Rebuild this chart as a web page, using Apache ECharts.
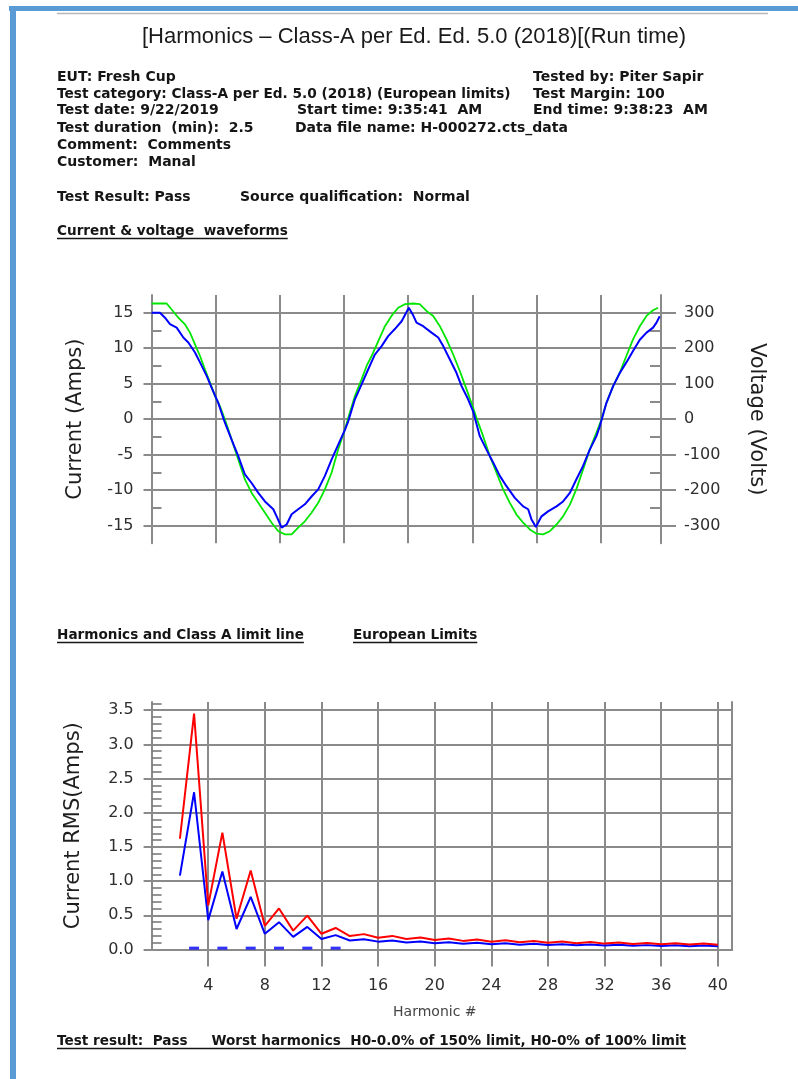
<!DOCTYPE html>
<html><head><meta charset="utf-8">
<script src="https://cdn.jsdelivr.net/npm/echarts@6/dist/echarts.min.js"></script>
<style>html,body{margin:0;padding:0;background:#fff}#c{width:798px;height:1079px}</style>
</head><body><div id="c"></div>
<script>
// ---------- Waveform data (time in ms) ----------
const currentTimeMs = [0,0.66,1.05,1.44,1.96,2.48,2.87,3.39,3.78,4.3,4.69,5.2,5.72,6.24,6.76,7.28,7.8,8.32,8.84,9.49,9.75,10.14,10.53,10.92,11.43,11.95,12.47,12.99,13.51,14.03,14.55,15.07,15.33,15.85,16.37,16.88,17.4,17.93,18.44,18.96,19.49,20.05,20.4,20.65,21.17,21.82,22.34,22.73,23.25,23.77,24.16,24.67,25.06,25.58,26.1,26.62,27.14,27.66,28.31,28.96,29.35,29.6,29.95,30.39,30.9,31.56,32.07,32.6,33.1,33.63,34.15,34.67,34.93,35.45,35.97,36.49,37.0,37.52,38.05,38.57,39.08,39.35,39.6];
const currentAmps = [15.0,15.0,14.3,13.4,12.9,11.5,10.8,9.4,8.0,6.1,4.4,2.3,-0.5,-2.9,-5.2,-7.8,-9.0,-10.4,-11.6,-12.7,-13.7,-15.3,-14.85,-13.4,-12.7,-12.0,-10.9,-9.9,-8.0,-5.7,-3.6,-1.5,-0.3,2.8,4.9,7.0,9.1,10.3,11.7,12.7,13.8,15.7,14.6,13.6,13.1,12.2,11.5,10.3,8.4,6.5,4.65,2.8,1.1,-2.4,-4.3,-6.1,-8.0,-9.45,-11.1,-12.3,-12.7,-14.1,-15.2,-13.7,-13.0,-12.3,-11.6,-10.4,-8.5,-6.6,-4.3,-2.4,-1.0,2.3,4.65,6.5,8.0,9.6,11.2,12.2,12.9,13.6,14.5];
const voltageTimeMs = [0,1.18,1.57,2.09,2.61,3.0,3.39,3.78,4.17,4.56,4.95,5.33,5.72,6.24,6.76,7.28,7.8,8.32,8.84,9.36,9.88,10.4,10.92,11.43,11.95,12.47,12.99,13.51,14.03,14.55,15.07,15.33,15.85,16.37,16.76,17.15,17.67,18.19,18.7,19.22,19.74,20.4,20.9,21.43,21.95,22.47,22.99,23.5,24.03,24.55,25.06,25.32,25.84,26.36,26.88,27.4,27.92,28.44,28.96,29.48,30.0,30.51,31.04,31.56,32.07,32.6,33.1,33.63,34.15,34.67,35.06,35.45,35.97,36.49,37.0,37.52,38.05,38.57,39.08,39.47];
const voltageVolts = [326,326,309,286,267,244,211,178,140,103,65,37,-1,-57,-114,-170,-208,-236,-264,-292,-316,-325,-325,-306,-288,-264,-236,-198,-151,-85,-29,4,65,112,150,178,220,262,291,314,324,326,324,305,291,262,225,183,135,84,32,4,-48,-104,-151,-198,-236,-269,-292,-311,-323,-325,-316,-297,-274,-241,-198,-142,-85,-38,-1,46,93,131,178,225,262,291,307,314];

// ---------- Waveform axis ticks ----------
const waveTimeTicks = [5,10,15,20,25,30,35];
const currentMajorTicks = [-15,-10,-5,0,5,10,15];
const currentMinorTicks = [-12.5,-7.5,-2.5,2.5,7.5,12.5];
const voltageMajorTicks = [-300,-200,-100,0,100,200,300];
const voltageMinorTicks = [-250,-150,-50,50,150,250];

// ---------- Harmonics data ----------
const harmonicOrders = [2,3,4,5,6,7,8,9,10,11,12,13,14,15,16,17,18,19,20,21,22,23,24,25,26,27,28,29,30,31,32,33,34,35,36,37,38,39,40];
const limit100Amps = [1.08,2.30,0.43,1.14,0.30,0.77,0.23,0.40,0.184,0.33,0.153,0.21,0.131,0.15,0.115,0.132,0.102,0.118,0.092,0.107,0.084,0.098,0.077,0.09,0.071,0.083,0.066,0.078,0.061,0.073,0.058,0.068,0.054,0.064,0.051,0.061,0.048,0.058,0.046];
const limit150Amps = [1.62,3.45,0.645,1.71,0.45,1.155,0.345,0.60,0.276,0.495,0.23,0.315,0.197,0.225,0.173,0.199,0.153,0.177,0.138,0.16,0.126,0.147,0.115,0.135,0.107,0.125,0.099,0.116,0.092,0.109,0.086,0.102,0.081,0.096,0.077,0.091,0.073,0.087,0.069];
const measuredOrders = [3,5,7,9,11,13];
const measuredAmps = [0.02,0.02,0.02,0.02,0.02,0.02];
const harmonicTicks = [4,8,12,16,20,24,28,32,36,40];
const rmsMajorTicks = [0,0.5,1.0,1.5,2.0,2.5,3.0,3.5];
const rmsMinorTicks = [0.1,0.2,0.3,0.4,0.6,0.7,0.8,0.9,1.1,1.2,1.3,1.4,1.6,1.7,1.8,1.9,2.1,2.2,2.3,2.4,2.6,2.7,2.8,2.9,3.1,3.2,3.3,3.4,3.6];

const zip = (a, b) => a.map((v, i) => [v, b[i]]);

const GRID = '#8a8a8a';
const LBL = {fontFamily: 'DejaVu Sans', fontSize: 16, color: '#2e2e2e'};
const NAME = {fontFamily: 'DejaVu Sans', fontSize: 21, color: '#1e1e1e'};

// ---------- text helpers ----------
const mctx = document.createElement('canvas').getContext('2d');
function tw(text, font) { mctx.font = font; return mctx.measureText(text).width; }
const INFO_FONT = 'bold 14px "DejaVu Sans"';
const CAT_FONT = 'bold 13.7px "DejaVu Sans"';
const HEAD_FONT = 'bold 13.6px "DejaVu Sans"';
const graphics = [];
function txt(x, y, text, font) {
  graphics.push({
    type: 'text', x: x, y: y, silent: true,
    style: {text: text, font: font, fill: '#151515', textAlign: 'left', textVerticalAlign: 'middle', align: 'left', verticalAlign: 'middle'}
  });
}
function underlined(x, y, text, font) {
  txt(x, y, text, font);
  const w = tw(text, font);
  graphics.push({type: 'line', silent: true, shape: {x1: x, y1: y + 7.5, x2: x + w, y2: y + 7.5}, style: {stroke: '#151515', lineWidth: 1.3}});
}

// page frame
graphics.push({type: 'rect', silent: true, shape: {x: 9, y: 6, width: 789, height: 5}, style: {fill: '#5b9bd5'}});
graphics.push({type: 'rect', silent: true, shape: {x: 10, y: 6, width: 6, height: 1073}, style: {fill: '#5b9bd5'}});
graphics.push({type: 'line', silent: true, shape: {x1: 57, y1: 13.5, x2: 768, y2: 13.5}, style: {stroke: '#b8b8b8', lineWidth: 1.5}});

// title
graphics.push({type: 'text', x: 414, y: 37, silent: true,
  style: {text: '[Harmonics – Class-A per Ed. Ed. 5.0 (2018)[(Run time)', font: '22px "Liberation Sans"', fill: '#1a1a1a',
    textAlign: 'center', textVerticalAlign: 'middle', align: 'center', verticalAlign: 'middle'}});

// header info
txt(57, 77, 'EUT: Fresh Cup', INFO_FONT);
txt(533, 77, 'Tested by: Piter Sapir', INFO_FONT);
txt(57, 94, 'Test category: Class-A per Ed. 5.0 (2018) (European limits)', CAT_FONT);
txt(533, 94, 'Test Margin: 100', INFO_FONT);
txt(57, 110, 'Test date: 9/22/2019', INFO_FONT);
txt(297, 110, 'Start time: 9:35:41  AM', INFO_FONT);
txt(533, 110, 'End time: 9:38:23  AM', INFO_FONT);
txt(57, 128.5, 'Test duration  (min):  2.5', INFO_FONT);
txt(295, 128.5, 'Data file name: H-000272.cts_data', INFO_FONT);
txt(57, 145, 'Comment:  Comments', INFO_FONT);
txt(57, 162, 'Customer:  Manal', INFO_FONT);
txt(57, 197, 'Test Result: Pass', INFO_FONT);
txt(240, 197, 'Source qualification:  Normal', INFO_FONT);
underlined(57, 231, 'Current & voltage  waveforms', HEAD_FONT);
underlined(57, 635, 'Harmonics and Class A limit line', HEAD_FONT);
underlined(353, 635, 'European Limits', HEAD_FONT);
underlined(57, 1041, 'Test result:  Pass     Worst harmonics  H0-0.0% of 150% limit, H0-0% of 100% limit', HEAD_FONT);

const gl = {color: GRID, width: 2};

const option = {
  animation: false,
  backgroundColor: '#fff',
  grid: [
    {left: 151.5, top: 295, width: 509.5, height: 248.3},
    {left: 151.6, top: 702, width: 580.4, height: 247.5}
  ],
  xAxis: [
    {gridIndex: 0, type: 'value', min: 0, max: 39.7, position: 'bottom',
      axisLine: {show: true, lineStyle: gl},
      axisTick: {show: true, customValues: waveTimeTicks, length: 17, lineStyle: gl},
      axisLabel: {show: false},
      splitLine: {show: true, lineStyle: gl}},
    {gridIndex: 0, type: 'value', min: 0, max: 39.7, position: 'top',
      axisLine: {show: true, lineStyle: gl}, axisTick: {show: false}, axisLabel: {show: false}, splitLine: {show: false}},
    {gridIndex: 1, type: 'value', min: 0, max: 41, position: 'bottom',
      name: 'Harmonic #', nameLocation: 'middle', nameGap: 56,
      nameTextStyle: {fontFamily: 'DejaVu Sans', fontSize: 14, color: '#444', padding: [0, 14, 0, 0]},
      axisLine: {show: true, lineStyle: gl},
      axisTick: {show: true, customValues: harmonicTicks, length: 17, lineStyle: gl},
      axisLabel: Object.assign({customValues: harmonicTicks, margin: 28}, LBL),
      splitLine: {show: true, lineStyle: gl}},
    {gridIndex: 1, type: 'value', min: 0, max: 41, position: 'top',
      axisLine: {show: true, lineStyle: gl}, axisTick: {show: false}, axisLabel: {show: false}, splitLine: {show: false}}
  ],
  yAxis: [
    {gridIndex: 0, type: 'value', min: -17.5, max: 17.5, position: 'left',
      name: 'Current (Amps)', nameLocation: 'middle', nameGap: 65, nameRotate: 90, nameTextStyle: NAME,
      axisLine: {show: true, lineStyle: gl},
      axisTick: {show: true, customValues: currentMajorTicks, length: 8, lineStyle: gl},
      axisLabel: Object.assign({customValues: currentMajorTicks, margin: 18}, LBL),
      splitLine: {show: true, lineStyle: gl}},
    {gridIndex: 0, type: 'value', min: -17.5, max: 17.5, position: 'left',
      axisLine: {show: false},
      axisTick: {show: true, inside: true, customValues: currentMinorTicks, length: 10, lineStyle: gl},
      axisLabel: {show: false}, splitLine: {show: false}},
    {gridIndex: 0, type: 'value', min: -350, max: 350, position: 'right',
      name: 'Voltage (Volts)', nameLocation: 'middle', nameGap: 85, nameRotate: -90, nameTextStyle: NAME,
      axisLine: {show: true, lineStyle: gl},
      axisTick: {show: true, customValues: voltageMajorTicks, length: 15, lineStyle: gl},
      axisLabel: Object.assign({customValues: voltageMajorTicks, margin: 23}, LBL),
      splitLine: {show: false}},
    {gridIndex: 0, type: 'value', min: -350, max: 350, position: 'right',
      axisLine: {show: false},
      axisTick: {show: true, inside: true, customValues: voltageMinorTicks, length: 11, lineStyle: gl},
      axisLabel: {show: false}, splitLine: {show: false}},
    {gridIndex: 1, type: 'value', min: 0, max: 3.62, position: 'left',
      name: 'Current RMS(Amps)', nameLocation: 'middle', nameGap: 68, nameRotate: 90, nameTextStyle: NAME,
      axisLine: {show: true, lineStyle: gl},
      axisTick: {show: true, customValues: rmsMajorTicks, length: 8, lineStyle: gl},
      axisLabel: Object.assign({customValues: rmsMajorTicks, margin: 18, formatter: v => Number(v).toFixed(1)}, LBL),
      splitLine: {show: true, lineStyle: gl}},
    {gridIndex: 1, type: 'value', min: 0, max: 3.62, position: 'left',
      axisLine: {show: false},
      axisTick: {show: true, inside: true, customValues: rmsMinorTicks, length: 10, lineStyle: {color: '#7a7a7a', width: 1.6}},
      axisLabel: {show: false}, splitLine: {show: false}},
    {gridIndex: 1, type: 'value', min: 0, max: 3.62, position: 'right',
      axisLine: {show: true, lineStyle: gl}, axisTick: {show: false}, axisLabel: {show: false}, splitLine: {show: false}}
  ],
  series: [
    {name: 'Voltage', type: 'line', xAxisIndex: 0, yAxisIndex: 2, data: zip(voltageTimeMs, voltageVolts),
      showSymbol: false, symbol: 'none', lineStyle: {color: '#00e600', width: 1.8}, itemStyle: {color: '#00e600'}, z: 3},
    {name: 'Current', type: 'line', xAxisIndex: 0, yAxisIndex: 0, data: zip(currentTimeMs, currentAmps),
      showSymbol: false, symbol: 'none', lineStyle: {color: '#0000ff', width: 2}, itemStyle: {color: '#0000ff'}, z: 4},
    {name: 'Limit 100%', type: 'line', xAxisIndex: 2, yAxisIndex: 4, data: zip(harmonicOrders, limit100Amps),
      showSymbol: false, symbol: 'none', lineStyle: {color: '#0000ff', width: 2}, itemStyle: {color: '#0000ff'}, z: 3},
    {name: 'Limit 150%', type: 'line', xAxisIndex: 2, yAxisIndex: 4, data: zip(harmonicOrders, limit150Amps),
      showSymbol: false, symbol: 'none', lineStyle: {color: '#ff0000', width: 2}, itemStyle: {color: '#ff0000'}, z: 4},
    {name: 'Measured', type: 'scatter', xAxisIndex: 2, yAxisIndex: 4, data: zip(measuredOrders, measuredAmps),
      symbol: 'rect', symbolSize: [10, 3], itemStyle: {color: '#0000ff'}, z: 5}
  ],
  graphic: graphics
};

const chart = echarts.init(document.getElementById('c'), null, {renderer: 'canvas'});
chart.setOption(option);
</script>
</body></html>
